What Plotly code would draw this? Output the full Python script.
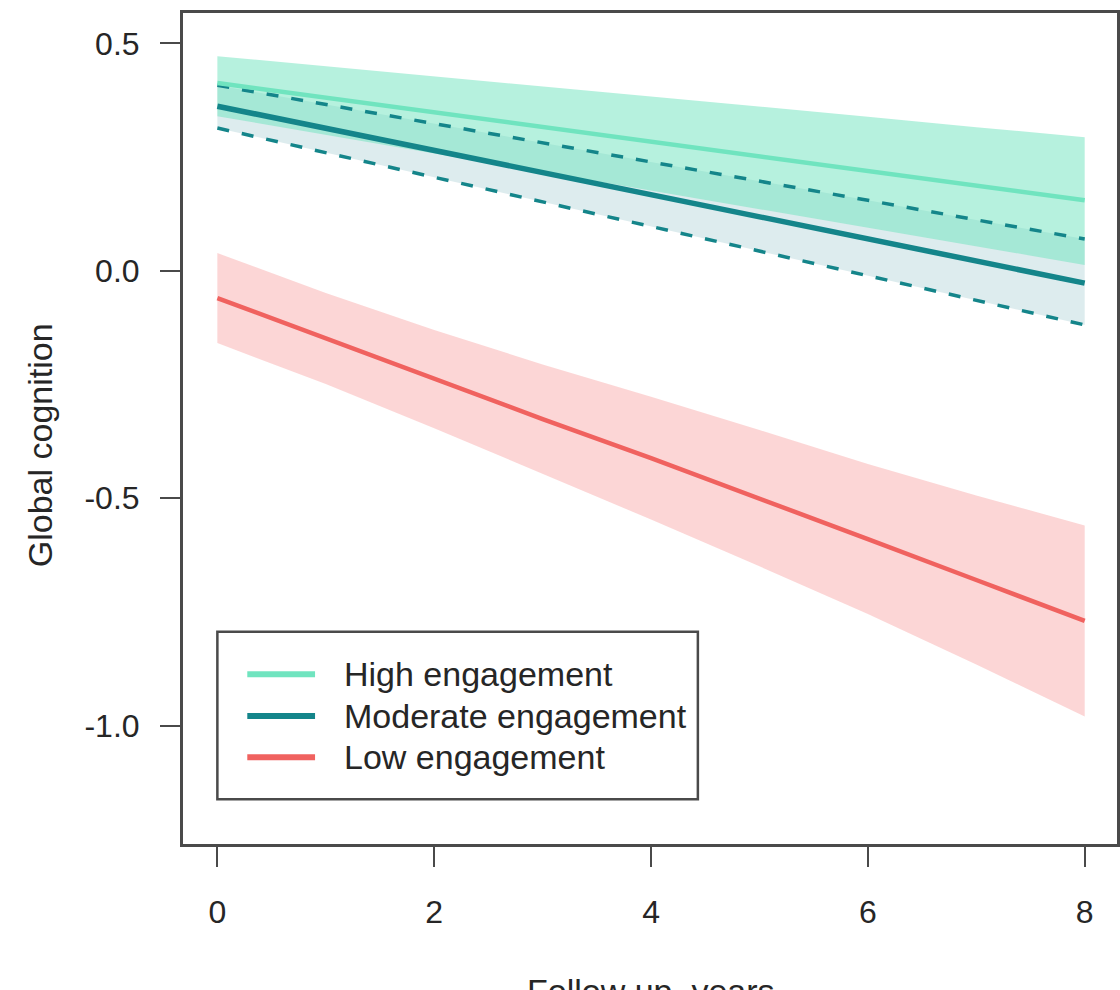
import plotly.graph_objects as go

# ---------------- data ----------------
years = [0, 1, 2, 3, 4, 5, 6, 7, 8]

high_mean = [0.413, 0.381, 0.349, 0.316, 0.284, 0.252, 0.220, 0.187, 0.155]
high_upper = [0.472, 0.450, 0.428, 0.405, 0.383, 0.361, 0.339, 0.316, 0.294]
high_lower = [0.340, 0.299, 0.258, 0.217, 0.177, 0.136, 0.095, 0.054, 0.013]

mod_mean = [0.362, 0.313, 0.265, 0.216, 0.168, 0.119, 0.070, 0.022, -0.027]
mod_upper = [0.408, 0.366, 0.324, 0.281, 0.239, 0.197, 0.155, 0.112, 0.070]
mod_lower = [0.314, 0.260, 0.206, 0.152, 0.098, 0.043, -0.011, -0.065, -0.119]

low_mean = [-0.060, -0.149, -0.238, -0.326, -0.412, -0.500, -0.590, -0.680, -0.770]
low_upper = [0.039, -0.049, -0.130, -0.206, -0.277, -0.350, -0.425, -0.494, -0.560]
low_lower = [-0.159, -0.249, -0.346, -0.446, -0.547, -0.650, -0.755, -0.866, -0.980]

series_names = ["High engagement", "Moderate engagement", "Low engagement"]
y_tick_vals = [0.5, 0.0, -0.5, -1.0]
y_tick_text = ["0.5", "0.0", "-0.5", "-1.0"]
x_tick_vals = [0, 2, 4, 6, 8]
x_tick_text = ["0", "2", "4", "6", "8"]

# ---------------- styling ----------------
FONT = "Liberation Sans, Arial, Helvetica, sans-serif"
C_HIGH = "#70e4bf"
C_MOD = "#14858a"
C_LOW = "#f0625f"
F_HIGH = "rgba(110,228,190,0.50)"
F_MOD = "rgba(30,130,140,0.15)"
F_LOW = "rgba(245,120,120,0.30)"
AXIS_C = "#4a4a4a"
TEXT_C = "#262626"

fig = go.Figure()


def band(lower, upper, fill):
    fig.add_trace(go.Scatter(x=years, y=lower, mode="lines", line=dict(width=0),
                             showlegend=False, hoverinfo="skip"))
    fig.add_trace(go.Scatter(x=years, y=upper, mode="lines", line=dict(width=0),
                             fill="tonexty", fillcolor=fill,
                             showlegend=False, hoverinfo="skip"))


band(mod_lower, mod_upper, F_MOD)
band(high_lower, high_upper, F_HIGH)
band(low_lower, low_upper, F_LOW)

# dashed CI borders of moderate group
for arr in (mod_upper, mod_lower):
    fig.add_trace(go.Scatter(x=years, y=arr, mode="lines",
                             line=dict(color=C_MOD, width=3.5, dash="12px,13px"),
                             showlegend=False, hoverinfo="skip"))

fig.add_trace(go.Scatter(x=years, y=high_mean, mode="lines", name=series_names[0],
                         line=dict(color=C_HIGH, width=4.5), showlegend=False))
fig.add_trace(go.Scatter(x=years, y=mod_mean, mode="lines", name=series_names[1],
                         line=dict(color=C_MOD, width=5.5), showlegend=False))
fig.add_trace(go.Scatter(x=years, y=low_mean, mode="lines", name=series_names[2],
                         line=dict(color=C_LOW, width=4.5), showlegend=False))

# ---------------- legend (R-style box) ----------------
leg_x0, leg_x1 = 0.0, 4.432
leg_y0, leg_y1 = -1.162, -0.794
leg_rows = [-0.887, -0.979, -1.070]
leg_colors = [C_HIGH, C_MOD, C_LOW]
fig.add_shape(type="rect", xref="x", yref="y", x0=leg_x0, x1=leg_x1, y0=leg_y0, y1=leg_y1,
              line=dict(color=AXIS_C, width=2.5), fillcolor="white", layer="above")
for name, col, yy in zip(series_names, leg_colors, leg_rows):
    fig.add_shape(type="line", xref="x", yref="y", x0=0.276, x1=0.901, y0=yy, y1=yy,
                  line=dict(color=col, width=6), layer="above")
    fig.add_annotation(x=1.149, y=yy, xref="x", yref="y", text=name, showarrow=False,
                       xanchor="left", yanchor="middle",
                       font=dict(family=FONT, size=34, color=TEXT_C))

# ---------------- axis titles ----------------
fig.add_annotation(x=-0.153, y=0.48, xref="paper", yref="paper", text="Global cognition",
                   textangle=-90, showarrow=False, xanchor="center", yanchor="middle",
                   font=dict(family=FONT, size=34, color=TEXT_C))
fig.add_annotation(x=4, y=-0.152, xref="x", yref="paper", text="Follow up, years",
                   showarrow=False, xanchor="center", yanchor="top",
                   font=dict(family=FONT, size=34, color=TEXT_C))

fig.update_layout(
    width=1120, height=990,
    margin=dict(l=183, r=0, t=13, b=146),
    paper_bgcolor="white", plot_bgcolor="white",
    font=dict(family=FONT, size=32, color=TEXT_C),
    showlegend=False,
)
fig.update_xaxes(range=[-0.317, 8.298], showgrid=False, zeroline=False,
                 tickvals=x_tick_vals, ticktext=x_tick_text,
                 showline=True, mirror=True, linecolor=AXIS_C, linewidth=3,
                 ticks="outside", ticklen=20, tickwidth=2, tickcolor=AXIS_C,
                 ticklabelstandoff=18, tickfont=dict(family=FONT, size=32, color=TEXT_C))
fig.update_yaxes(range=[-1.2606, 0.567], showgrid=False, zeroline=False,
                 tickvals=y_tick_vals, ticktext=y_tick_text,
                 showline=True, mirror=True, linecolor=AXIS_C, linewidth=3,
                 ticks="outside", ticklen=20, tickwidth=2, tickcolor=AXIS_C,
                 ticklabelstandoff=14, tickfont=dict(family=FONT, size=32, color=TEXT_C))

fig.write_html("out.html")
